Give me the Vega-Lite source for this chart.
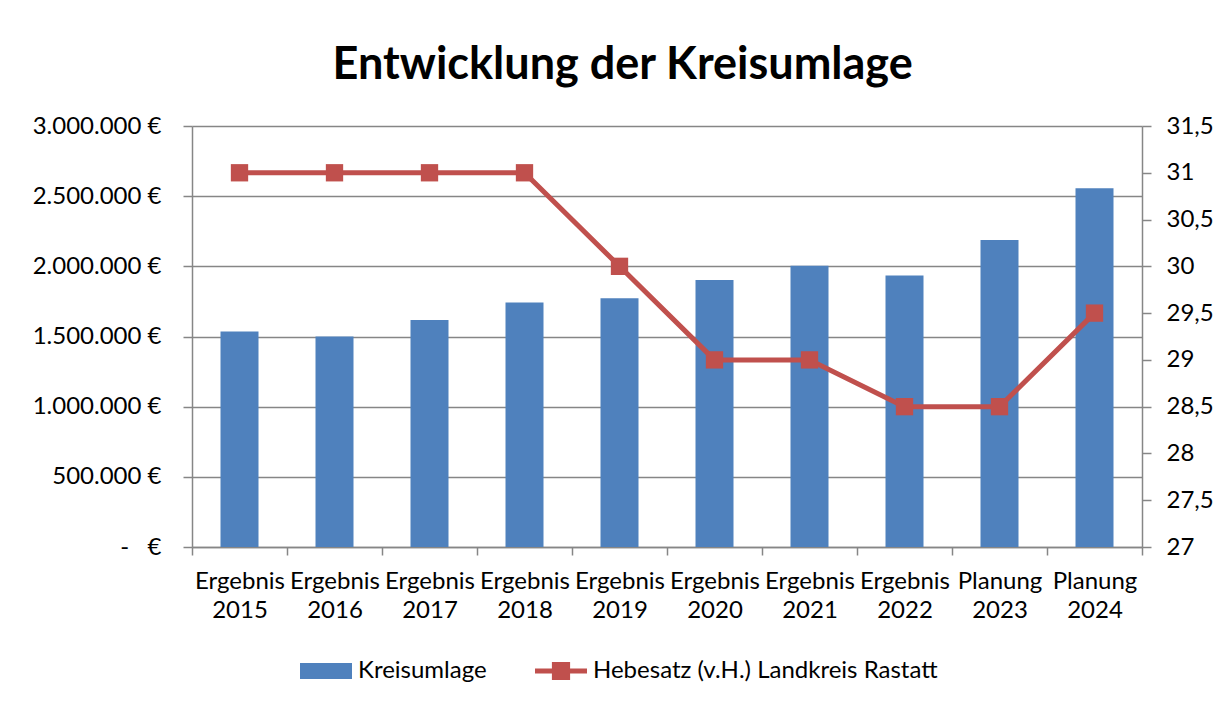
{
  "$schema": "https://vega.github.io/schema/vega-lite/v6.json",
  "width": 950,
  "height": 421,
  "autosize": {"type": "none"},
  "padding": {"left": 192, "top": 126, "right": 89, "bottom": 155},
  "background": "white",
  "title": {
    "text": "Entwicklung der Kreisumlage",
    "font": "Lato",
    "fontSize": 45,
    "fontWeight": "bold",
    "color": "black",
    "anchor": "middle",
    "frame": "bounds",
    "baseline": "alphabetic",
    "offset": -10
  },
  "data": {
    "values": [
      {"jahr": "Ergebnis 2015", "kreisumlage": 1536000, "hebesatz": 31},
      {"jahr": "Ergebnis 2016", "kreisumlage": 1500000, "hebesatz": 31},
      {"jahr": "Ergebnis 2017", "kreisumlage": 1617000, "hebesatz": 31},
      {"jahr": "Ergebnis 2018", "kreisumlage": 1742000, "hebesatz": 31},
      {"jahr": "Ergebnis 2019", "kreisumlage": 1773000, "hebesatz": 30},
      {"jahr": "Ergebnis 2020", "kreisumlage": 1902000, "hebesatz": 29},
      {"jahr": "Ergebnis 2021", "kreisumlage": 2004000, "hebesatz": 29},
      {"jahr": "Ergebnis 2022", "kreisumlage": 1934000, "hebesatz": 28.5},
      {"jahr": "Planung 2023", "kreisumlage": 2187000, "hebesatz": 28.5},
      {"jahr": "Planung 2024", "kreisumlage": 2557000, "hebesatz": 29.5}
    ]
  },
  "encoding": {
    "x": {
      "field": "jahr",
      "type": "nominal",
      "sort": null,
      "scale": {"paddingInner": 0, "paddingOuter": 0},
      "axis": {
        "title": null,
        "labelAngle": 0,
        "labelExpr": "split(datum.label, ' ')",
        "labelFont": "Lato",
        "labelFontSize": 24,
        "labelLineHeight": 29,
        "labelColor": "black",
        "labelPadding": 14,
        "tickBand": "extent",
        "tickSize": 8,
        "tickColor": "#868686",
        "domainColor": "#868686",
        "grid": false
      }
    }
  },
  "layer": [
    {
      "mark": {"type": "bar", "width": {"band": 0.4}},
      "encoding": {
        "y": {
          "field": "kreisumlage",
          "type": "quantitative",
          "scale": {"domain": [0, 3000000], "nice": false},
          "axis": {
            "title": null,
            "values": [0, 500000, 1000000, 1500000, 2000000, 2500000, 3000000],
            "labelExpr": "datum.value == 0 ? '-\u00a0\u00a0\u00a0€' : replace(format(datum.value, ',.0f'), regexp(',', 'g'), '.') + ' €'",
            "labelFont": "Lato",
            "labelFontSize": 24,
            "labelColor": "black",
            "labelPadding": 22,
            "tickSize": 9,
            "tickColor": "#868686",
            "domainColor": "#868686",
            "grid": true,
            "gridColor": "#868686",
            "gridWidth": 1.5
          }
        },
        "color": {
          "datum": "Kreisumlage",
          "scale": {"domain": ["Kreisumlage", "Hebesatz (v.H.) Landkreis Rastatt"], "range": ["#4f81bd", "#c0504d"]},
          "legend": {
            "title": null,
            "orient": "none",
            "direction": "horizontal",
            "legendX": 108,
            "legendY": 519,
            "symbolSize": 2704,
            "labelFont": "Lato",
            "labelFontSize": 24,
            "labelColor": "black",
            "labelLimit": 600,
            "labelOffset": 6,
            "columnPadding": 48,
            "encode": {
              "symbols": {
                "update": {
                  "shape": {"signal": "datum.value === 'Kreisumlage' ? 'M-1,-0.31H1V0.31H-1Z' : 'M-1,-0.1H1V0.1H-1Z M-0.35,-0.35H0.35V0.35H-0.35Z'"},
                  "fill": {"signal": "datum.value === 'Kreisumlage' ? '#4f81bd' : '#c0504d'"},
                  "stroke": {"value": null},
                  "strokeWidth": {"value": 0},
                  "size": {"value": 2704},
                  "opacity": {"value": 1}
                }
              }
            }
          }
        }
      }
    },
    {
      "mark": {"type": "line", "strokeWidth": 5, "point": {"shape": "square", "size": 300, "filled": true, "opacity": 1}},
      "encoding": {
        "y": {
          "field": "hebesatz",
          "type": "quantitative",
          "scale": {"domain": [27, 31.5], "nice": false, "zero": false},
          "axis": {
            "title": null,
            "orient": "right",
            "values": [27, 27.5, 28, 28.5, 29, 29.5, 30, 30.5, 31, 31.5],
            "labelExpr": "replace(toString(datum.value), '.', ',')",
            "labelFont": "Lato",
            "labelFontSize": 24,
            "labelColor": "black",
            "labelPadding": 15,
            "tickSize": 9,
            "tickColor": "#868686",
            "domainColor": "#868686",
            "grid": false
          }
        },
        "color": {
          "datum": "Hebesatz (v.H.) Landkreis Rastatt",
          "scale": {"domain": ["Kreisumlage", "Hebesatz (v.H.) Landkreis Rastatt"], "range": ["#4f81bd", "#c0504d"]}
        }
      }
    }
  ],
  "resolve": {"scale": {"y": "independent"}},
  "config": {
    "view": {"stroke": null},
    "axis": {"domainWidth": 1.5, "tickWidth": 1.5}
  }
}
